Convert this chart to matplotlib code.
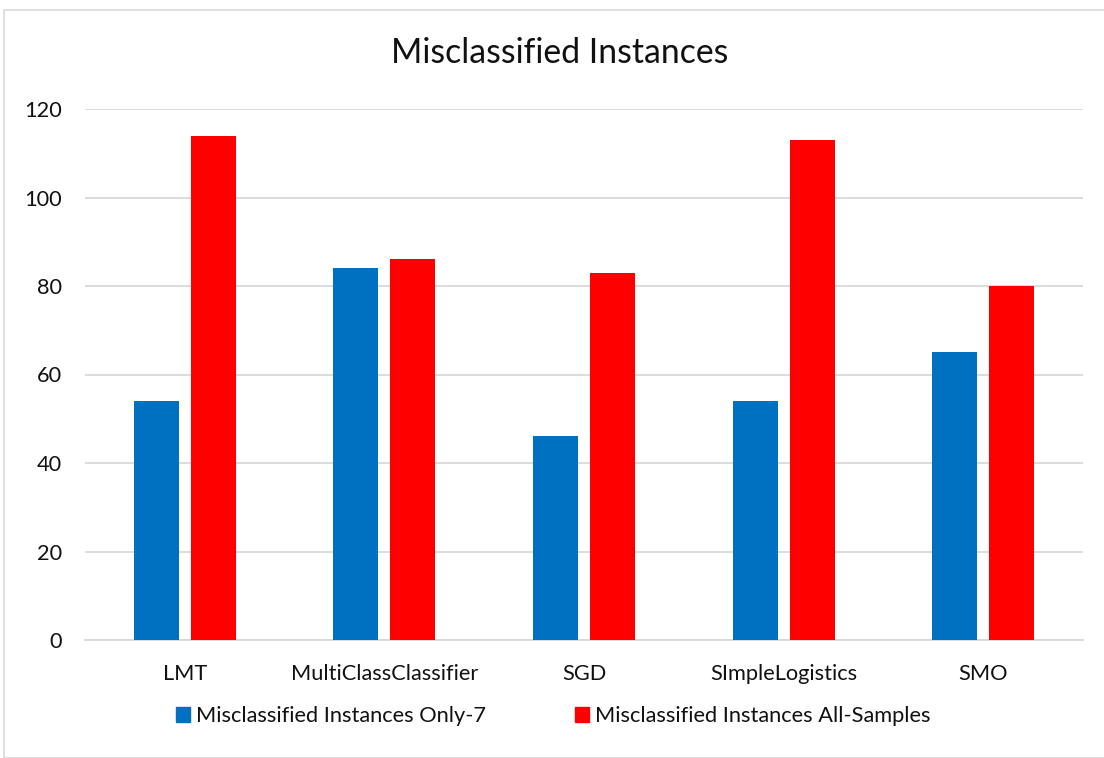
import matplotlib
matplotlib.use("Agg")
import matplotlib.pyplot as plt
import numpy as np
from matplotlib.patches import Rectangle, Patch

categories = ["LMT", "MultiClassClassifier", "SGD", "SImpleLogistics", "SMO"]
only7 = [54, 84, 46, 54, 65]
all_samples = [114, 86, 83, 113, 80]
series_names = ["Misclassified Instances Only-7", "Misclassified Instances All-Samples"]
yticks = [0, 20, 40, 60, 80, 100, 120]

plt.rcParams['font.family'] = ['Lato', 'DejaVu Sans']

W, H = 1104, 758
fig = plt.figure(figsize=(W/100, H/100), dpi=100)
ax = fig.add_axes([85/W, 1-640/H, (1083-85)/W, (640-109)/H])

fs = 15.7
x = np.arange(len(categories))
bw = 0.225
off = 0.143
ax.bar(x - off, only7, bw, color="#0070C0", zorder=3)
ax.bar(x + off, all_samples, bw, color="#FF0000", zorder=3)

ax.set_xlim(-0.5, len(categories) - 0.5)
ax.set_ylim(0, 120)
ax.set_yticks(yticks)
ax.set_yticklabels([str(v) for v in yticks], fontsize=fs, color="#111111")
ax.set_xticks(x)
ax.set_xticklabels(categories, fontsize=fs, color="#111111")
ax.tick_params(axis='both', length=0)
ax.tick_params(axis='y', pad=16.5)
ax.tick_params(axis='x', pad=17)
ax.grid(axis='y', color="#D9D9D9", linewidth=1.3, zorder=0)
for s in ['top', 'right', 'left']:
    ax.spines[s].set_visible(False)
ax.spines['bottom'].set_color("#D9D9D9")
ax.spines['bottom'].set_linewidth(1.3)

fig.text(560/W, 1-53/H, "Misclassified Instances", ha='center', va='center',
         fontsize=24.3, color="#111111")

handles = [Patch(color="#0070C0"), Patch(color="#FF0000")]
leg = fig.legend(handles, series_names, loc='center', bbox_to_anchor=(553/W, 1-716/H),
                 ncol=2, frameon=False, fontsize=fs, handlelength=0.64, handleheight=0.64,
                 handletextpad=0.28, columnspacing=4.08, borderpad=0, borderaxespad=0)
for t in leg.get_texts():
    t.set_color("#111111")

fig.patches.append(Rectangle((4/W, 0), 1.2, 1-10/H, transform=fig.transFigure,
                             fill=False, edgecolor="#D9D9D9", linewidth=1.2))

fig.savefig("out.png", dpi=100)
